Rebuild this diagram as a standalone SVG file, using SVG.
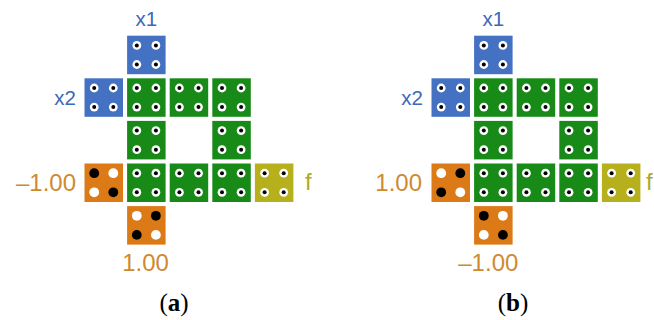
<svg xmlns="http://www.w3.org/2000/svg" xmlns:xlink="http://www.w3.org/1999/xlink" width="654" height="320" viewBox="0 0 654 320">
<style>
.blue{fill:#4471c2}
.green{fill:#178a17}
.orange{fill:#db7a17}
.yellow{fill:#b6b01c}
.lbl{font-family:"Liberation Sans",Arial,sans-serif}
.lb{fill:#3d69b6;font-size:20.5px}
.lo{fill:#cf8a2f;font-size:24px}
.ly{fill:#b1aa1f;font-size:24px}
.cap{font-family:"Liberation Serif","Times New Roman",serif;font-size:25px;fill:#000}
</style>
<defs>
<g id="pins">
<circle cx="9.7" cy="9.7" r="4.4" fill="#fff"/><circle cx="9.7" cy="9.7" r="2" fill="#000"/>
<circle cx="28.8" cy="9.7" r="4.4" fill="#fff"/><circle cx="28.8" cy="9.7" r="2" fill="#000"/>
<circle cx="9.7" cy="28.8" r="4.4" fill="#fff"/><circle cx="9.7" cy="28.8" r="2" fill="#000"/>
<circle cx="28.8" cy="28.8" r="4.4" fill="#fff"/><circle cx="28.8" cy="28.8" r="2" fill="#000"/>
</g>
<g id="negone">
<circle cx="9.7" cy="9.7" r="4.9" fill="#000"/>
<circle cx="28.8" cy="9.7" r="4.9" fill="#fff"/>
<circle cx="9.7" cy="28.8" r="4.9" fill="#fff"/>
<circle cx="28.8" cy="28.8" r="4.9" fill="#000"/>
</g>
<g id="posone">
<circle cx="9.7" cy="9.7" r="4.9" fill="#fff"/>
<circle cx="28.8" cy="9.7" r="4.9" fill="#000"/>
<circle cx="9.7" cy="28.8" r="4.9" fill="#000"/>
<circle cx="28.8" cy="28.8" r="4.9" fill="#fff"/>
</g>
<rect id="tile" width="38.5" height="38.5"/>
</defs>

<!-- Panel (a) -->
<g id="panel-a">
<g id="a-x1"><use xlink:href="#tile" class="blue" x="127.1" y="35.7"/><use xlink:href="#pins" x="127.1" y="35.7"/><text class="lbl lb" x="146.3" y="25.7" text-anchor="middle">x1</text></g>
<g id="a-x2"><use xlink:href="#tile" class="blue" x="84.5" y="78.3"/><use xlink:href="#pins" x="84.5" y="78.3"/><text class="lbl lb" x="76" y="104.8" text-anchor="end">x2</text></g>
<g id="a-g11"><use xlink:href="#tile" class="green" x="127.1" y="78.3"/><use xlink:href="#pins" x="127.1" y="78.3"/></g>
<g id="a-g12"><use xlink:href="#tile" class="green" x="169.7" y="78.3"/><use xlink:href="#pins" x="169.7" y="78.3"/></g>
<g id="a-g13"><use xlink:href="#tile" class="green" x="212.3" y="78.3"/><use xlink:href="#pins" x="212.3" y="78.3"/></g>
<g id="a-g21"><use xlink:href="#tile" class="green" x="127.1" y="120.9"/><use xlink:href="#pins" x="127.1" y="120.9"/></g>
<g id="a-g23"><use xlink:href="#tile" class="green" x="212.3" y="120.9"/><use xlink:href="#pins" x="212.3" y="120.9"/></g>
<g id="a-bias-left"><use xlink:href="#tile" class="orange" x="84.5" y="163.5"/><use xlink:href="#negone" x="84.5" y="163.5"/><text class="lbl lo" x="76" y="190.7" text-anchor="end">–1.00</text></g>
<g id="a-g31"><use xlink:href="#tile" class="green" x="127.1" y="163.5"/><use xlink:href="#pins" x="127.1" y="163.5"/></g>
<g id="a-g32"><use xlink:href="#tile" class="green" x="169.7" y="163.5"/><use xlink:href="#pins" x="169.7" y="163.5"/></g>
<g id="a-g33"><use xlink:href="#tile" class="green" x="212.3" y="163.5"/><use xlink:href="#pins" x="212.3" y="163.5"/></g>
<g id="a-f"><use xlink:href="#tile" class="yellow" x="254.9" y="163.5"/><use xlink:href="#pins" x="254.9" y="163.5"/><text class="lbl ly" x="305" y="190.3">f</text></g>
<g id="a-bias-bottom"><use xlink:href="#tile" class="orange" x="127.1" y="206.1"/><use xlink:href="#posone" x="127.1" y="206.1"/><text class="lbl lo" x="145.5" y="271" text-anchor="middle">1.00</text></g>
<text class="cap" x="174" y="310.5" text-anchor="middle">(<tspan font-weight="bold">a</tspan>)</text>
</g>

<!-- Panel (b) -->
<g id="panel-b">
<g id="b-x1"><use xlink:href="#tile" class="blue" x="474.1" y="35.7"/><use xlink:href="#pins" x="474.1" y="35.7"/><text class="lbl lb" x="493.3" y="25.7" text-anchor="middle">x1</text></g>
<g id="b-x2"><use xlink:href="#tile" class="blue" x="431.5" y="78.3"/><use xlink:href="#pins" x="431.5" y="78.3"/><text class="lbl lb" x="423" y="104.8" text-anchor="end">x2</text></g>
<g id="b-g11"><use xlink:href="#tile" class="green" x="474.1" y="78.3"/><use xlink:href="#pins" x="474.1" y="78.3"/></g>
<g id="b-g12"><use xlink:href="#tile" class="green" x="516.7" y="78.3"/><use xlink:href="#pins" x="516.7" y="78.3"/></g>
<g id="b-g13"><use xlink:href="#tile" class="green" x="559.3" y="78.3"/><use xlink:href="#pins" x="559.3" y="78.3"/></g>
<g id="b-g21"><use xlink:href="#tile" class="green" x="474.1" y="120.9"/><use xlink:href="#pins" x="474.1" y="120.9"/></g>
<g id="b-g23"><use xlink:href="#tile" class="green" x="559.3" y="120.9"/><use xlink:href="#pins" x="559.3" y="120.9"/></g>
<g id="b-bias-left"><use xlink:href="#tile" class="orange" x="431.5" y="163.5"/><use xlink:href="#posone" x="431.5" y="163.5"/><text class="lbl lo" x="422" y="191.2" text-anchor="end">1.00</text></g>
<g id="b-g31"><use xlink:href="#tile" class="green" x="474.1" y="163.5"/><use xlink:href="#pins" x="474.1" y="163.5"/></g>
<g id="b-g32"><use xlink:href="#tile" class="green" x="516.7" y="163.5"/><use xlink:href="#pins" x="516.7" y="163.5"/></g>
<g id="b-g33"><use xlink:href="#tile" class="green" x="559.3" y="163.5"/><use xlink:href="#pins" x="559.3" y="163.5"/></g>
<g id="b-f"><use xlink:href="#tile" class="yellow" x="601.9" y="163.5"/><use xlink:href="#pins" x="601.9" y="163.5"/><text class="lbl ly" x="646" y="190.3">f</text></g>
<g id="b-bias-bottom"><use xlink:href="#tile" class="orange" x="474.1" y="206.1"/><use xlink:href="#negone" x="474.1" y="206.1"/><text class="lbl lo" x="488.3" y="271" text-anchor="middle">–1.00</text></g>
<text class="cap" x="513" y="310.5" text-anchor="middle">(<tspan font-weight="bold">b</tspan>)</text>
</g>
</svg>
